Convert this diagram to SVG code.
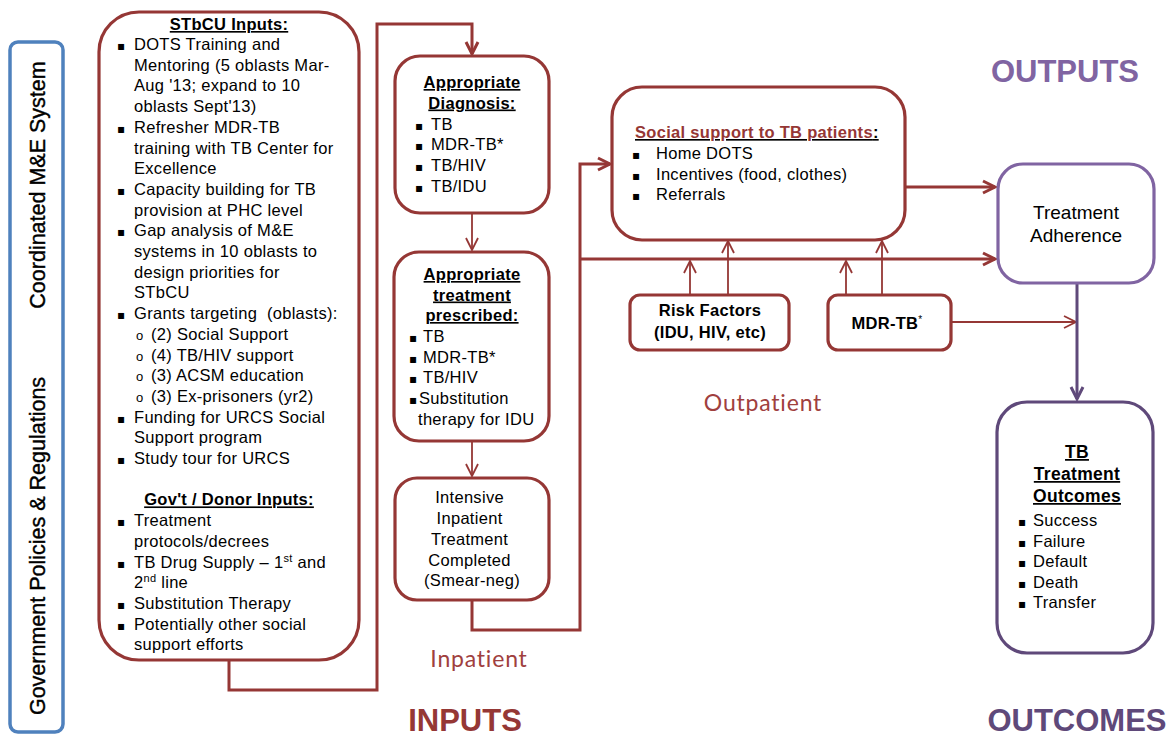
<svg xmlns="http://www.w3.org/2000/svg" width="1174" height="738" viewBox="0 0 1174 738">
<style>
.t{font-family:"Liberation Sans",Arial,sans-serif;font-size:16.5px;letter-spacing:0.3px;fill:#000}
.b{font-weight:bold}
.u{text-decoration:underline}
.m{text-anchor:middle}
.bl{font-family:"DejaVu Sans",sans-serif;font-size:12px}
.o{font-size:13px}
.red{fill:none;stroke:#953735;stroke-width:3.2}
.pur{fill:none;stroke:#8064A2;stroke-width:3.2}
.dpur{fill:none;stroke:#5F497A;stroke-width:3.2}
.blue{fill:none;stroke:#4F81BD;stroke-width:3.5}
.ck{fill:none;stroke:#953735;stroke-width:3}
.cn{fill:none;stroke:#953735;stroke-width:1.8}
.cp{fill:none;stroke:#5F497A;stroke-width:3}
.big{font-family:"Liberation Sans",Arial,sans-serif;font-weight:bold;font-size:31px;text-anchor:middle}
.lbl{font-family:Lato,"Open Sans",sans-serif;font-size:23px;letter-spacing:0.8px;fill:#A0403E;text-anchor:middle}
.vt{font-family:"Liberation Sans",Arial,sans-serif;font-size:21.5px;fill:#000;stroke:#000;stroke-width:0.4;text-anchor:middle}
</style>
<defs>
<marker id="ak" markerUnits="userSpaceOnUse" viewBox="0 0 14 14" refX="13" refY="7" markerWidth="14" markerHeight="14" orient="auto" overflow="visible">
<path d="M1,1 L13,7 L1,13" fill="none" stroke="#953735" stroke-width="3"/>
</marker>
<marker id="an" markerUnits="userSpaceOnUse" viewBox="0 0 14 14" refX="13" refY="7" markerWidth="14" markerHeight="14" orient="auto" overflow="visible">
<path d="M1,1 L13,7 L1,13" fill="none" stroke="#953735" stroke-width="1.8"/>
</marker>
<marker id="ap" markerUnits="userSpaceOnUse" viewBox="0 0 14 14" refX="13" refY="7" markerWidth="14" markerHeight="14" orient="auto" overflow="visible">
<path d="M1,1 L13,7 L1,13" fill="none" stroke="#5F497A" stroke-width="3"/>
</marker>
</defs>
<rect width="1174" height="738" fill="#fff"/>

<g id="connectors">
<polyline class="ck" points="229,660 229,690 377,690 377,24 472,24 472,54" marker-end="url(#ak)"/>
<line class="cn" x1="472" y1="213" x2="472" y2="250" marker-end="url(#an)"/>
<line class="cn" x1="472" y1="441" x2="472" y2="476" marker-end="url(#an)"/>
<polyline class="ck" points="472,600 472,630 580,630 580,164 610,164" marker-end="url(#ak)"/>
<line class="ck" x1="580" y1="259" x2="995" y2="259" marker-end="url(#ak)"/>
<line class="ck" x1="905" y1="187" x2="995" y2="187" marker-end="url(#ak)"/>
<line class="cn" x1="690" y1="295" x2="690" y2="261" marker-end="url(#an)"/>
<line class="cn" x1="728" y1="295" x2="728" y2="241" marker-end="url(#an)"/>
<line class="cn" x1="846" y1="295" x2="846" y2="261" marker-end="url(#an)"/>
<line class="cn" x1="882" y1="295" x2="882" y2="241" marker-end="url(#an)"/>
<line class="cn" x1="951" y1="322" x2="1076" y2="322" marker-end="url(#an)"/>
<line class="cp" x1="1077" y1="283" x2="1077" y2="399" marker-end="url(#ap)"/>
</g>

<g id="me-system">
<rect class="blue" x="10" y="42" width="53" height="690" rx="8"/>
<text class="vt" transform="translate(45,185) rotate(-90)">Coordinated M&amp;E System</text>
<text class="vt" transform="translate(45,546) rotate(-90)">Government Policies &amp; Regulations</text>
</g>

<g id="stbcu-inputs">
<rect class="red" x="99" y="12" width="260" height="648" rx="40"/>
<text class="t b u m" x="229" y="30">STbCU Inputs:</text>
<text class="t bl" x="117" y="50">▪</text>
<text class="t bl" x="117" y="132.8">▪</text>
<text class="t bl" x="117" y="194.9">▪</text>
<text class="t bl" x="117" y="236.3">▪</text>
<text class="t bl" x="117" y="319.1">▪</text>
<text class="t bl" x="117" y="422.6">▪</text>
<text class="t bl" x="117" y="464">▪</text>
<text class="t bl" x="117" y="526.1">▪</text>
<text class="t bl" x="117" y="567.5">▪</text>
<text class="t bl" x="117" y="608.9">▪</text>
<text class="t bl" x="117" y="629.6">▪</text>
<text class="t o" x="136" y="339.8">o</text>
<text class="t o" x="136" y="360.5">o</text>
<text class="t o" x="136" y="381.2">o</text>
<text class="t o" x="136" y="401.9">o</text>
<text class="t">
<tspan x="134" y="50">DOTS Training and</tspan>
<tspan x="134" y="70.7">Mentoring (5 oblasts Mar-</tspan>
<tspan x="134" y="91.4">Aug '13; expand to 10</tspan>
<tspan x="134" y="112.1">oblasts Sept'13)</tspan>
<tspan x="134" y="132.8">Refresher MDR-TB</tspan>
<tspan x="134" y="153.5">training with TB Center for</tspan>
<tspan x="134" y="174.2">Excellence</tspan>
<tspan x="134" y="194.9">Capacity building for TB</tspan>
<tspan x="134" y="215.6">provision at PHC level</tspan>
<tspan x="134" y="236.3">Gap analysis of M&amp;E</tspan>
<tspan x="134" y="257">systems in 10 oblasts to</tspan>
<tspan x="134" y="277.7">design priorities for</tspan>
<tspan x="134" y="298.4">STbCU</tspan>
<tspan x="134" y="319.1" xml:space="preserve">Grants targeting  (oblasts):</tspan>
<tspan x="151" y="339.8">(2) Social Support</tspan>
<tspan x="151" y="360.5">(4) TB/HIV support</tspan>
<tspan x="151" y="381.2">(3) ACSM education</tspan>
<tspan x="151" y="401.9">(3) Ex-prisoners (yr2)</tspan>
<tspan x="134" y="422.6">Funding for URCS Social</tspan>
<tspan x="134" y="443.3">Support program</tspan>
<tspan x="134" y="464">Study tour for URCS</tspan>
</text>
<text class="t b u m" x="229" y="505.4">Gov't / Donor Inputs:</text>
<text class="t">
<tspan x="134" y="526.1">Treatment</tspan>
<tspan x="134" y="546.8">protocols/decrees</tspan>
<tspan x="134" y="567.5">TB Drug Supply – 1<tspan dy="-6" font-size="11">st</tspan><tspan dy="6"> and</tspan></tspan>
<tspan x="134" y="588.2">2<tspan dy="-6" font-size="11">nd</tspan><tspan dy="6"> line</tspan></tspan>
<tspan x="134" y="608.9">Substitution Therapy</tspan>
<tspan x="134" y="629.6">Potentially other social</tspan>
<tspan x="134" y="650.3">support efforts</tspan>
</text>
</g>

<g id="diagnosis">
<rect class="red" x="395" y="56" width="154" height="157" rx="25"/>
<text class="t b u m" x="472" y="88">Appropriate</text>
<text class="t b u m" x="472" y="108.5">Diagnosis:</text>
<text class="t bl" x="415" y="129.5">▪</text>
<text class="t bl" x="415" y="150">▪</text>
<text class="t bl" x="415" y="171">▪</text>
<text class="t bl" x="415" y="191.5">▪</text>
<text class="t">
<tspan x="431" y="129.5">TB</tspan>
<tspan x="431" y="150">MDR-TB*</tspan>
<tspan x="431" y="171">TB/HIV</tspan>
<tspan x="431" y="191.5">TB/IDU</tspan>
</text>
</g>

<g id="treatment">
<rect class="red" x="394" y="252" width="155" height="189" rx="25"/>
<text class="t b u m" x="472" y="280">Appropriate</text>
<text class="t b u m" x="472" y="300.5">treatment</text>
<text class="t b u m" x="472" y="321">prescribed:</text>
<text class="t bl" x="409" y="342">▪</text>
<text class="t bl" x="409" y="362.5">▪</text>
<text class="t bl" x="409" y="383">▪</text>
<text class="t bl" x="409" y="404">▪</text>
<text class="t">
<tspan x="423" y="342">TB</tspan>
<tspan x="423" y="362.5">MDR-TB*</tspan>
<tspan x="423" y="383">TB/HIV</tspan>
<tspan x="419" y="404">Substitution</tspan>
<tspan x="418" y="424.5">therapy for IDU</tspan>
</text>
</g>

<g id="intensive">
<rect class="red" x="395" y="478" width="154" height="122" rx="22"/>
<text class="t m">
<tspan x="472" y="503">Intensive</tspan>
<tspan x="472" y="524">Inpatient</tspan>
<tspan x="472" y="545">Treatment</tspan>
<tspan x="472" y="566">Completed</tspan>
<tspan x="472" y="586">(Smear-neg)</tspan>
</text>
</g>

<g id="social-support">
<rect class="red" x="612" y="87" width="293" height="153" rx="30"/>
<text class="t b u" x="635" y="138"><tspan fill="#953735">Social support to TB patients</tspan>:</text>
<text class="t bl" x="632" y="159">▪</text>
<text class="t bl" x="632" y="180">▪</text>
<text class="t bl" x="632" y="200">▪</text>
<text class="t">
<tspan x="656" y="159">Home DOTS</tspan>
<tspan x="656" y="180">Incentives (food, clothes)</tspan>
<tspan x="656" y="200">Referrals</tspan>
</text>
</g>

<g id="risk-factors">
<rect class="red" x="630" y="295" width="159" height="55" rx="10"/>
<text class="t b m" x="710" y="316">Risk Factors</text>
<text class="t b m" x="710" y="338">(IDU, HIV, etc)</text>
</g>

<g id="mdr-tb">
<rect class="red" x="828" y="295" width="123" height="55" rx="10"/>
<text class="t b m" x="887" y="329">MDR-TB<tspan dy="-6" font-size="10" font-weight="normal">*</tspan></text>
</g>

<g id="adherence">
<rect class="pur" x="998" y="164" width="156" height="119" rx="25"/>
<text class="t m" style="font-size:19px;letter-spacing:0" x="1076" y="219">Treatment</text>
<text class="t m" style="font-size:19px;letter-spacing:0" x="1076" y="242">Adherence</text>
</g>

<g id="outcomes">
<rect class="dpur" x="997" y="402" width="156" height="251" rx="30"/>
<text class="t b u m" style="font-size:17.5px" x="1077" y="458">TB</text>
<text class="t b u m" style="font-size:17.5px" x="1077" y="480">Treatment</text>
<text class="t b u m" style="font-size:17.5px" x="1077" y="502">Outcomes</text>
<text class="t bl" x="1018" y="526">▪</text>
<text class="t bl" x="1018" y="546.5">▪</text>
<text class="t bl" x="1018" y="567">▪</text>
<text class="t bl" x="1018" y="588">▪</text>
<text class="t bl" x="1018" y="608">▪</text>
<text class="t">
<tspan x="1033" y="526">Success</tspan>
<tspan x="1033" y="546.5">Failure</tspan>
<tspan x="1033" y="567">Default</tspan>
<tspan x="1033" y="588">Death</tspan>
<tspan x="1033" y="608">Transfer</tspan>
</text>
</g>

<g id="labels">
<text class="big" x="1065" y="82" fill="#8064A2">OUTPUTS</text>
<text class="big" x="465" y="731" fill="#953735">INPUTS</text>
<text class="big" x="1077" y="731" fill="#5F497A">OUTCOMES</text>
<text class="lbl" x="479" y="667">Inpatient</text>
<text class="lbl" x="763" y="411">Outpatient</text>
</g>
</svg>
